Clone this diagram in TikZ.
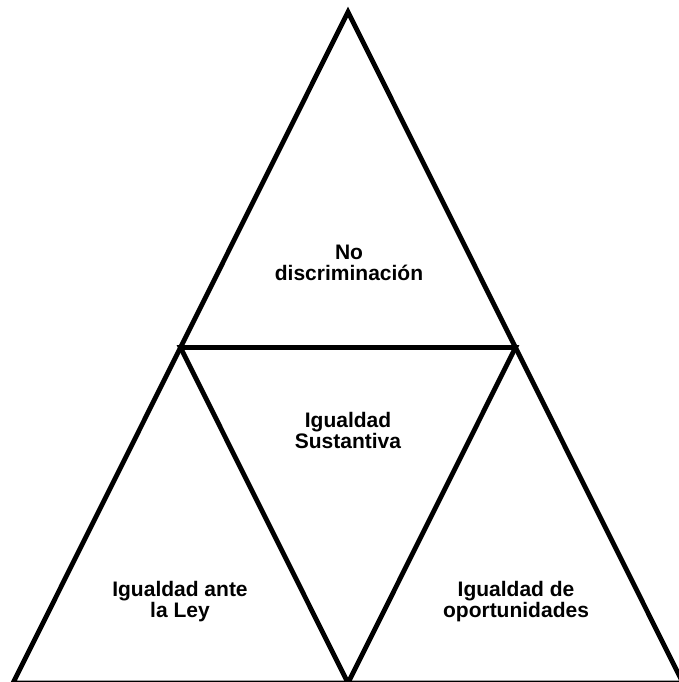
\documentclass[tikz,border=0pt]{standalone}
\usepackage{fontspec}
\setmainfont{Liberation Sans}

\begin{document}
\begin{tikzpicture}[x=1pt, y=-1pt]
\useasboundingbox (0, 0) rectangle (679, 682);
\clip (0, 0) rectangle (679, 682);

\coordinate (top) at (348, 12);
\coordinate (bl) at (13, 683);
\coordinate (br) at (683, 683);
\coordinate (ml) at (180.5, 347.5);
\coordinate (mr) at (515.5, 347.5);
\coordinate (mb) at (348, 683);

\draw [line width=4.8pt, draw=black, line join=miter] (top) -- (bl) -- (br) -- cycle;
\draw [line width=4.8pt, draw=black, line join=miter] (ml) -- (mr) -- (mb) -- cycle;

\tikzset{lbl/.style={font=\bfseries\fontsize{21}{21}\selectfont, align=center, anchor=base, inner sep=0pt}}
\node[lbl] (nodisc) at (349, 280) {No\\discriminación};
\node[lbl] (sust) at (348, 448) {Igualdad\\Sustantiva};
\node[lbl] (ley) at (180, 617) {Igualdad ante\\la Ley};
\node[lbl] (oport) at (516, 617) {Igualdad de\\oportunidades};
\end{tikzpicture}
\end{document}
